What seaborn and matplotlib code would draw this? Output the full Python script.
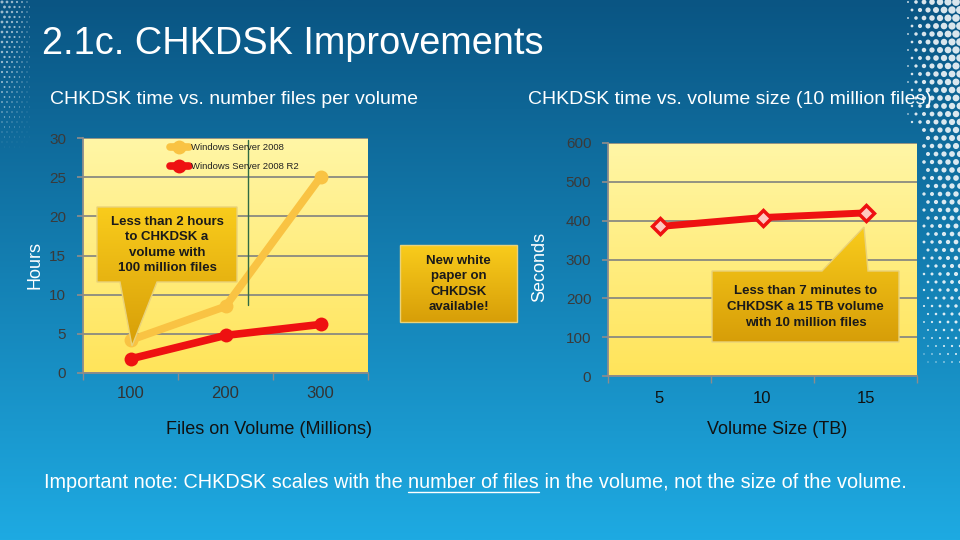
import numpy as np
import pandas as pd
import matplotlib
matplotlib.use("Agg")
import matplotlib.pyplot as plt
from matplotlib.patches import Polygon
import seaborn as sns

# data
files_labels = ['100', '200', '300']
ws2008 = [4.2, 8.5, 25.0]
ws2008_r2 = [1.8, 4.8, 6.2]
hours_ticks = [0, 5, 10, 15, 20, 25, 30]

size_labels = ['5', '10', '15']
seconds = [385, 408, 420]
seconds_ticks = [0, 100, 200, 300, 400, 500, 600]

series_names = ['Windows Server 2008', 'Windows Server 2008 R2']

sns.set_theme(style="white")
plt.rcParams['font.family'] = ['Liberation Sans', 'DejaVu Sans']

W, H = 960, 540
fig = plt.figure(figsize=(9.6, 5.4), dpi=100)


def fr(x0, y0, x1, y1):
    # pixel box (top-left origin) -> figure fraction rect
    return [x0 / W, 1 - y1 / H, (x1 - x0) / W, (y1 - y0) / H]


def vgrad(top, bottom, n=256):
    a = np.array(matplotlib.colors.to_rgb(top))
    b = np.array(matplotlib.colors.to_rgb(bottom))
    t = np.linspace(0, 1, n)[:, None]
    return (a * (1 - t) + b * t)[:, None, :]


# blue slide background
bg = fig.add_axes([0, 0, 1, 1])
bg.imshow(vgrad('#0a5583', '#1eaae2'), extent=(0, W, H, 0), aspect='auto')

# decorative dot pattern on the slide edges
gx, gy = np.meshgrid(np.arange(0, 6) * 5 + 2, np.arange(0, 30) * 5 + 2)
gx = gx + (gy // 5 % 2) * 2.5
sz = np.clip((1 - gx / 34.0) * (1 - gy / 150.0), 0, None) * 5
bg.scatter(gx.ravel(), gy.ravel(), s=sz.ravel(), color='white', alpha=0.6, lw=0)
rx, ry = np.meshgrid(np.arange(0, 7) * 8 + 908, np.arange(0, 46) * 8 + 2)
rx = rx + (ry // 8 % 2) * 4
keep = (rx > 922) | (ry < 130)
rsz = np.clip((rx - 905) / 55.0, 0, None) * np.clip(1 - ry / 380.0, 0, None) * 34
bg.scatter(rx[keep], ry[keep], s=rsz[keep], color='white', alpha=0.85, lw=0)
bg.set_xlim(0, W)
bg.set_ylim(H, 0)
bg.axis('off')

yellow = vgrad('#fff6a6', '#ffe45a')
grid_c = '#8a8a80'

# ---- left chart: hours vs files
df_files = pd.DataFrame({
    'files': files_labels * 2,
    'hours': ws2008 + ws2008_r2,
    'series': [series_names[0]] * 3 + [series_names[1]] * 3,
})
ax1 = fig.add_axes(fr(83, 138, 368, 373))
sns.lineplot(data=df_files, x='files', y='hours', hue='series', ax=ax1,
             palette={series_names[0]: '#f9c343', series_names[1]: '#ee1111'},
             marker='o', markersize=10, markeredgewidth=0, linewidth=5.5,
             sort=False)
ax1.imshow(yellow, extent=(0, 1, 0, 1), transform=ax1.transAxes, aspect='auto', zorder=-1)
ax1.set_xlim(-0.5, 2.5)
ax1.set_ylim(0, 30)
ax1.set_yticks(hours_ticks)
ax1.set_xticks([0, 1, 2])
ax1.set_xticklabels(files_labels)
ax1.set_xticks([-0.5, 0.5, 1.5, 2.5], minor=True)
ax1.axvline(1.24, ymin=0.29, ymax=0.99, color='#2f6b45', lw=1)
h, l = ax1.get_legend_handles_labels()
ax1.legend(h, l, loc='upper left', bbox_to_anchor=(0.275, 1.015), frameon=False,
           fontsize=6.8, labelspacing=1.05, handlelength=2.0, handletextpad=0.2,
           labelcolor='#222222')
ax1.set_xlabel('Files on Volume (Millions)', fontsize=13, color='#111111')
ax1.xaxis.set_label_coords((269 - 83) / 285, -(430 - 373) / 235)
ax1.xaxis.label.set_va('center')
ax1.set_ylabel('Hours', fontsize=13, color='white')
ax1.yaxis.set_label_coords((35 - 83) / 285, (373 - 265) / 235)
ax1.yaxis.label.set_va('center')

# ---- right chart: seconds vs volume size
df_size = pd.DataFrame({'size': size_labels, 'seconds': seconds})
ax2 = fig.add_axes(fr(608, 143, 917, 376))
sns.lineplot(data=df_size, x='size', y='seconds', ax=ax2, color='#ee1111',
             marker='D', markersize=8, markerfacecolor='#ffc8c0',
             markeredgecolor='#ee1111', markeredgewidth=2.5, linewidth=5, sort=False)
ax2.imshow(yellow, extent=(0, 1, 0, 1), transform=ax2.transAxes, aspect='auto', zorder=-1)
ax2.set_xlim(-0.5, 2.5)
ax2.set_ylim(0, 600)
ax2.set_yticks(seconds_ticks)
ax2.set_xticks([0, 1, 2])
ax2.set_xticklabels(size_labels)
ax2.set_xticks([-0.5, 0.5, 1.5, 2.5], minor=True)
ax2.set_xlabel('Volume Size (TB)', fontsize=13, color='#111111')
ax2.xaxis.set_label_coords((777 - 608) / 309, -(430 - 376) / 233)
ax2.xaxis.label.set_va('center')
ax2.set_ylabel('Seconds', fontsize=13, color='white')
ax2.yaxis.set_label_coords((540 - 608) / 309, (376 - 267) / 233)
ax2.yaxis.label.set_va('center')

for ax in (ax1, ax2):
    ax.set_axisbelow(True)
    ax.yaxis.grid(True, color=grid_c, lw=1.3)
    ax.xaxis.grid(False)
    for s in ('top', 'right'):
        ax.spines[s].set_visible(False)
    for s in ('left', 'bottom'):
        ax.spines[s].set_color('#8c8c8c')
        ax.spines[s].set_linewidth(1.3)
    ax.tick_params(axis='y', length=4, color='#8c8c8c', pad=8, labelsize=11,
                   labelcolor='#3a3a3a', direction='out', left=True)
    ax.tick_params(axis='x', which='minor', length=5, color='#8c8c8c', bottom=True)
ax1.tick_params(axis='x', which='major', length=0, pad=9, labelsize=12, labelcolor='#333333')
ax2.tick_params(axis='x', which='major', length=0, pad=11, labelsize=12, labelcolor='#111111')

# ---- titles and notes
fig.text(42 / W, 1 - 44 / H, '2.1c. CHKDSK Improvements', fontsize=27.3,
         color='white', va='center')
fig.text(50 / W, 1 - 99 / H, 'CHKDSK time vs. number files per volume',
         fontsize=14, color='white', va='center')
fig.text(528 / W, 1 - 99 / H, 'CHKDSK time vs. volume size (10 million files)',
         fontsize=14, color='white', va='center')

# bottom note with underlined part
parts = ['Important note: CHKDSK scales with the ', 'number of files',
         ' in the volume, not the size of the volume.']
fig.canvas.draw()
r = fig.canvas.get_renderer()
x = 44
ybase = 1 - 482 / H
for i, p in enumerate(parts):
    t = fig.text(x / W, ybase, p, fontsize=14.3, color='white', va='center')
    bb = t.get_window_extent(renderer=r)
    if i == 1:
        bg.plot([bb.x0, bb.x1], [492, 492], color='white', lw=1)
    x = bb.x1

# ---- callouts
ov = fig.add_axes([0, 0, 1, 1], zorder=10)
ov.set_xlim(0, W)
ov.set_ylim(H, 0)
ov.axis('off')
ov.patch.set_alpha(0)

callouts = [
    ([(97, 207), (237, 207), (237, 282), (157, 282), (132, 346), (120, 282), (97, 282)],
     (167, 245), 'Less than 2 hours\nto CHKDSK a\nvolume with\n100 million files'),
    ([(400, 245), (517, 245), (517, 322), (400, 322)],
     (458.5, 284), 'New white\npaper on\nCHKDSK\navailable!'),
    ([(712, 271), (822, 271), (864, 227), (868, 271), (899, 271), (899, 342), (712, 342)],
     (805.5, 307), 'Less than 7 minutes to\nCHKDSK a 15 TB volume\nwith 10 million files'),
]
for pts, (tx, ty), txt in callouts:
    poly = Polygon(pts, closed=True, facecolor='none', edgecolor='#e9d27a', lw=1)
    ov.add_patch(poly)
    xs = [p[0] for p in pts]
    ys = [p[1] for p in pts]
    im = ov.imshow(vgrad('#f9cc1c', '#d79e08'), extent=(min(xs), max(xs), max(ys), min(ys)),
                   aspect='auto')
    im.set_clip_path(poly)
    ov.text(tx, ty, txt, ha='center', va='center', fontsize=9.5, fontweight='bold',
            color='#1a1a1a', linespacing=1.4)
ov.set_xlim(0, W)
ov.set_ylim(H, 0)

fig.savefig('out.png', dpi=100)
